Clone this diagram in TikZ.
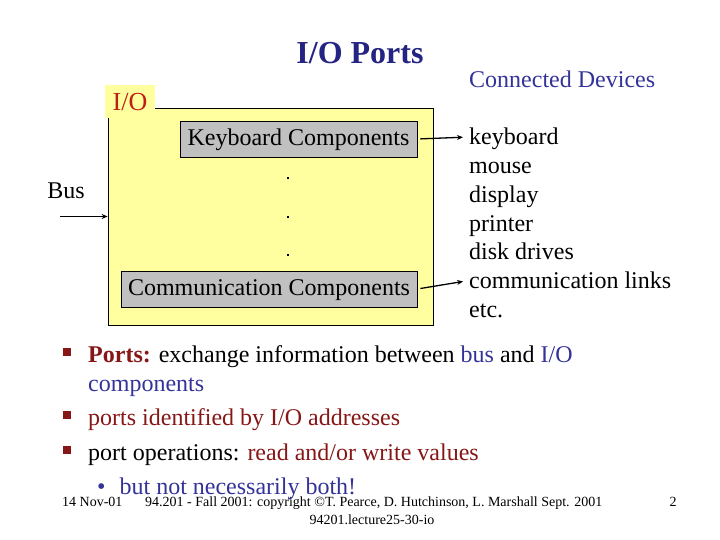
\documentclass[tikz,border=0pt]{standalone}
\usepackage{fontspec}
\setmainfont{Liberation Serif}
\usetikzlibrary{arrows.meta}
\definecolor{boxyellow}{RGB}{255,255,160}
\definecolor{compgray}{RGB}{192,192,192}
\definecolor{devblue}{RGB}{51,51,153}
\definecolor{titleblue}{RGB}{36,36,130}
\definecolor{labelred}{RGB}{190,30,20}
\definecolor{darkred}{RGB}{135,22,22}
\newcommand{\bigtext}{\fontsize{24}{28.7}\selectfont}
\newcommand{\foottext}{\fontsize{14}{16}\selectfont}
\begin{document}
\begin{tikzpicture}[x=1pt,y=-1pt,>={Stealth[length=6pt,width=5pt]},
  every node/.style={font=\bigtext,inner sep=0pt},
  comp/.style={draw,line width=0.8pt,fill=compgray,minimum height=36pt,text height=17pt,text depth=4pt},
  item/.style={anchor=west,text height=19pt,text depth=3pt},
  foot/.style={font=\foottext,text height=9pt,text depth=3pt},
  link/.style={->,line width=1.3pt,shorten <=3pt,shorten >=6pt}]
\useasboundingbox (0,0) rectangle (720,540);
\node (title) at (360,53) {\fontsize{32}{36}\selectfont\color{titleblue}\textbf{I/O Ports}};
\node[item,text=devblue] (devhead) at (469,80) {Connected Devices};
% the I/O block
\node[draw,line width=0.8pt,fill=boxyellow,minimum width=325pt,minimum height=217pt] (io) at (270.5,216.5) {};
\node[fill=boxyellow,minimum width=50pt,minimum height=33pt,text=labelred,font=\fontsize{26}{30}\selectfont] (iotab) at (130,102) {I/O};
\node[comp,minimum width=237pt] (kbd) at (298.5,139) {Keyboard Components};
\node[comp,minimum width=296pt] (comm) at (269,289) {Communication Components};
\foreach \y [count=\i] in {178,217,255}
  \node[fill=black,minimum size=2.5pt] (dot\i) at (288,\y) {};
% bus side
\node (bus) at (66,191) {Bus};
\coordinate (busin) at (60,216.5);
\draw[->,line width=1.3pt] (busin) -- (io.west);
% devices
\foreach \d [count=\i] in {keyboard,mouse,display,printer,disk drives,communication links,etc.}
  \node[item] (dev\i) at (469,{137+28.7*(\i-1)}) {\d};
\draw[link] (kbd.east) -- (dev1.west);
\draw[link] (comm.east) -- (dev6.west);
% bullets
\foreach \y [count=\i] in {352,415,450}
  \node[fill=darkred,minimum size=8pt] (sq\i) at (66.5,\y) {};
\node[item] (b1) at (88,354) {\textcolor{darkred}{\textbf{Ports:}} exchange information between \textcolor{devblue}{bus} and \textcolor{devblue}{I/O}};
\node[item,text=devblue] (b1b) at (88,383) {components};
\node[item,text=darkred] (b2) at (88,417) {ports identified by I/O addresses};
\node[item] (b3) at (88,452) {port operations: \textcolor{darkred}{read and/or write values}};
\node[item,text=devblue,text height=17pt,text depth=1pt] (sub) at (97,486) {\textbullet\hspace{14pt}but not necessarily both!};
% footer
\node[foot,anchor=west] (date) at (62,503.5) {14 Nov-01};
\node[foot,anchor=west] (copy) at (145,503.5) {94.201 - Fall 2001: copyright ©T. Pearce, D. Hutchinson, L. Marshall Sept. 2001};
\node[foot] (file) at (372,521) {94201.lecture25-30-io};
\node[foot] (page) at (673,503.5) {2};
\end{tikzpicture}
\end{document}
